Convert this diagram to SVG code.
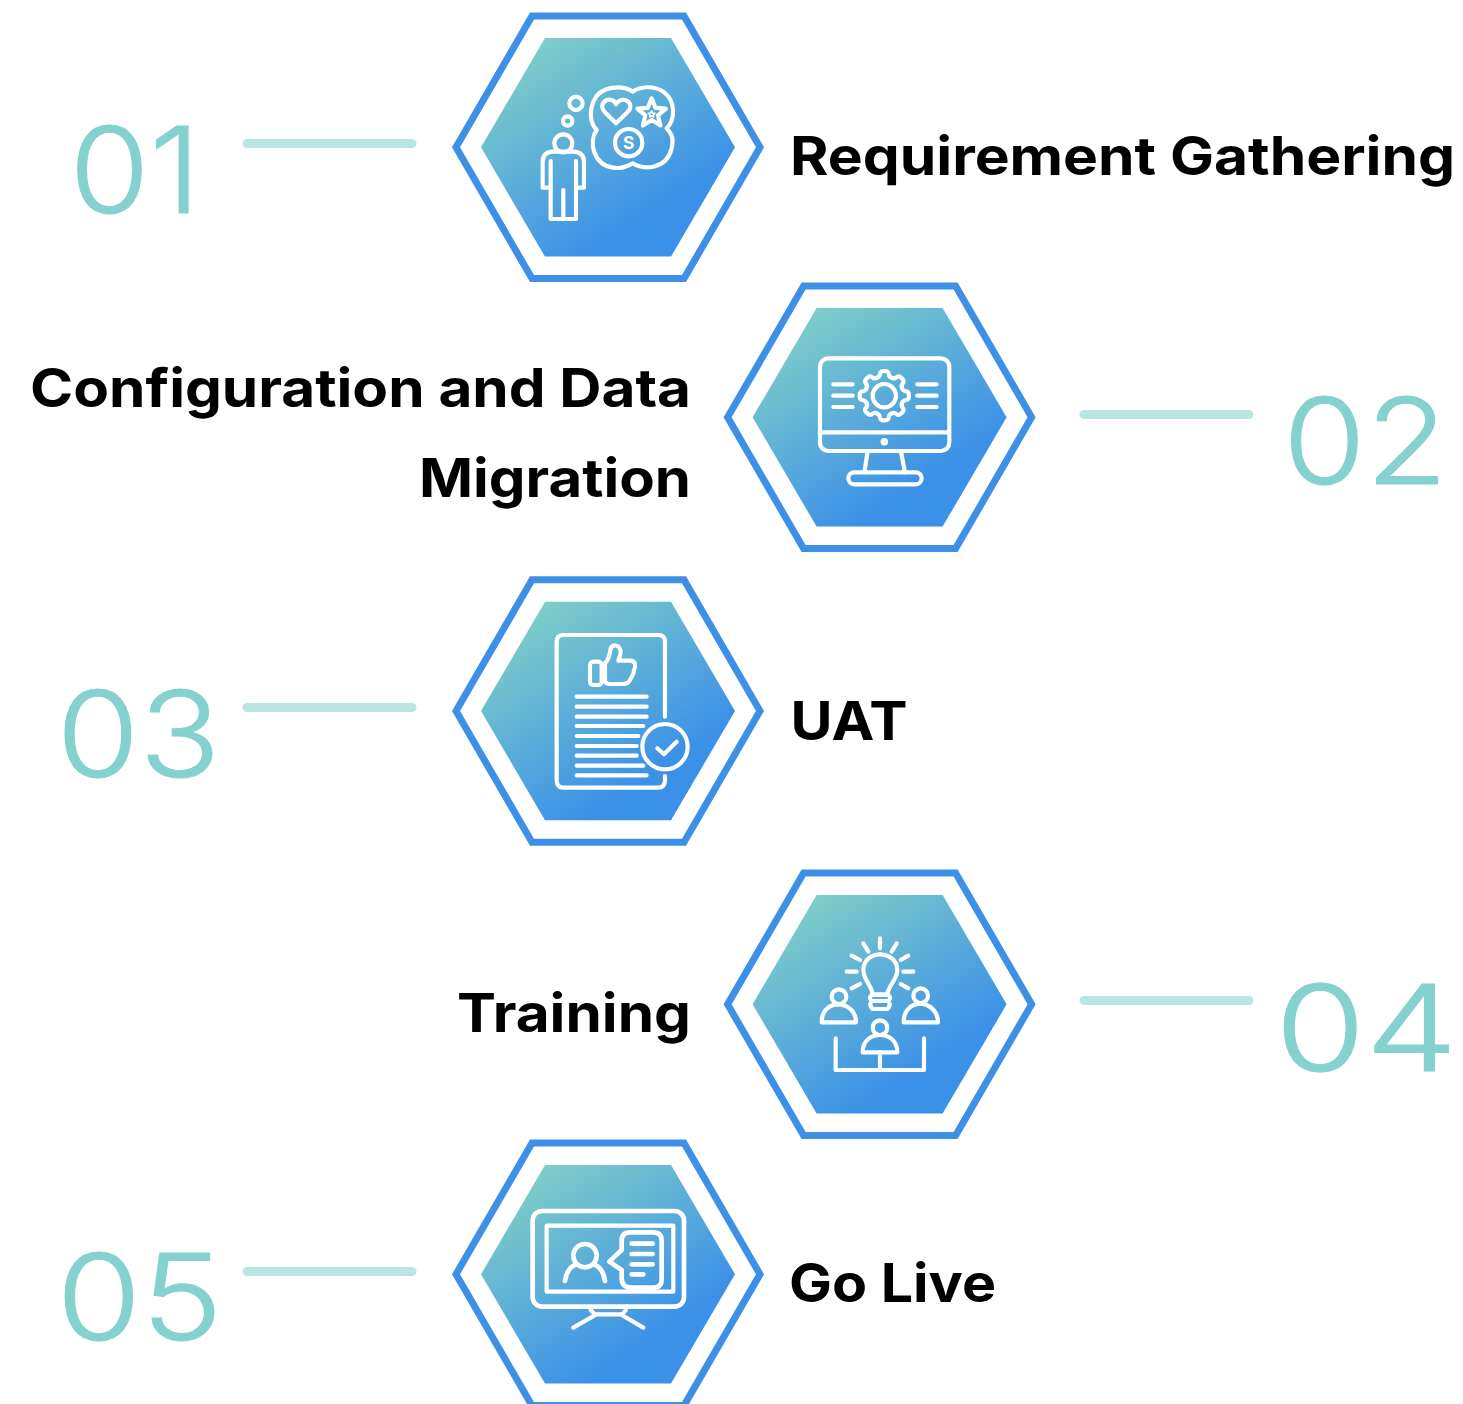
<svg xmlns="http://www.w3.org/2000/svg" xmlns:xlink="http://www.w3.org/1999/xlink" width="1463" height="1404" viewBox="0 0 1463 1404">
<style>
.ring{fill:none;stroke:#3d90e6;stroke-width:7}
.core{fill:url(#g)}
.ic{fill:none;stroke:#fff;stroke-width:12.5;stroke-linecap:round;stroke-linejoin:round}
.lbl{font-family:Inter,"Liberation Sans",sans-serif;font-weight:700;font-size:53px;fill:#000}
.num{font-family:Inter,"Liberation Sans",sans-serif;font-weight:300;font-size:120px;fill:#85d1cd;stroke:#85d1cd;stroke-width:1}
.ln{stroke:#b9e5e3;stroke-width:9;stroke-linecap:round;fill:none}
</style>
<defs>
<linearGradient id="g" x1="0.12" y1="0.02" x2="0.7" y2="0.78">
<stop offset="0" stop-color="#84d2c5"/><stop offset="1" stop-color="#3b90e8"/>
</linearGradient>
<polygon id="hexo" class="ring" points="-152,0 -76,-131.3 76,-131.3 152,0 76,131.3 -76,131.3"/>
<polygon id="hexi" class="core" points="-127,0 -63,-109.3 63,-109.3 127,0 63,109.3 -63,109.3"/>
<path id="tooth" d="M-22.2,-53.6Q-14,-55 -13,-66Q-12,-74 0,-74Q12,-74 13,-66Q14,-55 22.2,-53.6"/>
</defs>
<rect width="1463" height="1404" fill="#fff"/>
<g id="connectors">
<line class="ln" x1="247" y1="143.5" x2="412" y2="143.5"/>
<line class="ln" x1="1084" y1="414.5" x2="1249" y2="414.5"/>
<line class="ln" x1="247" y1="707.5" x2="412" y2="707.5"/>
<line class="ln" x1="1084" y1="1000.5" x2="1249" y2="1000.5"/>
<line class="ln" x1="247" y1="1271.5" x2="412" y2="1271.5"/>
</g>
<g id="node1">
<g transform="translate(608 147.3)"><use href="#hexo" xlink:href="#hexo"/><use href="#hexi" xlink:href="#hexi"/></g>
<g class="ic" transform="translate(530 75) scale(.3333)">
<circle cx="100" cy="205" r="27"/>
<path d="M62,338H38V260Q38,232 68,230H130Q162,232 162,260V338H138M62,258V432H138V258M100,345V432"/>
<circle cx="138" cy="85" r="20"/><circle cx="113" cy="138" r="14"/>
<path d="M308,50C280,30 210,30 190,80C175,120 185,150 200,165C175,200 190,270 250,278C270,282 290,275 308,265C340,285 410,285 425,220C432,190 425,175 410,160C435,135 440,80 400,50C370,30 330,35 308,50Z"/>
<path d="M258,145L225,112C205,90 225,70 245,75C252,77 256,82 258,88C262,78 275,72 285,75C305,82 305,100 292,112Z"/>
<polygon points="365,70 376.8,98.8 407.8,101.1 384,121.2 391.5,151.4 365,135 338.5,151.4 346,121.2 322.2,101.1 353.2,98.8"/>
<polygon points="365,108 368,114 375,115 370,120 371,126 365,123 359,126 360,120 355,115 362,114" stroke-width="5"/>
<circle cx="296" cy="203" r="41"/>
<text x="296" y="222" text-anchor="middle" font-family="Inter,'Liberation Sans',sans-serif" font-weight="700" font-size="52" fill="#fff" stroke="none">S</text>
</g>
<text class="num" x="69.4" y="212.5" textLength="131" lengthAdjust="spacingAndGlyphs">01</text>
<text class="lbl" x="790" y="175" textLength="665" lengthAdjust="spacingAndGlyphs">Requirement Gathering</text>
</g>
<g id="node2">
<g transform="translate(879.6 417.3)"><use href="#hexo" xlink:href="#hexo"/><use href="#hexi" xlink:href="#hexi"/></g>
<g class="ic" transform="translate(720 275) scale(.3333)">
<rect x="300" y="250" width="388" height="278" rx="25"/>
<path d="M300,472H688M443,530L433,592M543,530L555,592"/>
<rect x="385" y="592" width="220" height="36" rx="18"/>
<circle cx="493" cy="500" r="5"/>
<path d="M340,328H398M340,362H398M340,396H398M592,328H650M592,362H650M592,396H650"/>
<circle cx="493" cy="362" r="35"/>
<g transform="translate(493 362)">
<use href="#tooth" xlink:href="#tooth"/>
<use href="#tooth" xlink:href="#tooth" transform="rotate(45)"/>
<use href="#tooth" xlink:href="#tooth" transform="rotate(90)"/>
<use href="#tooth" xlink:href="#tooth" transform="rotate(135)"/>
<use href="#tooth" xlink:href="#tooth" transform="rotate(180)"/>
<use href="#tooth" xlink:href="#tooth" transform="rotate(225)"/>
<use href="#tooth" xlink:href="#tooth" transform="rotate(270)"/>
<use href="#tooth" xlink:href="#tooth" transform="rotate(315)"/>
</g>
</g>
<text class="num" x="1283" y="483.5" textLength="165" lengthAdjust="spacingAndGlyphs">02</text>
<text class="lbl" x="30" y="406.5" textLength="661" lengthAdjust="spacingAndGlyphs">Configuration and Data</text>
<text class="lbl" x="419" y="496.5" textLength="272" lengthAdjust="spacingAndGlyphs">Migration</text>
</g>
<g id="node3">
<g transform="translate(608 711)"><use href="#hexo" xlink:href="#hexo"/><use href="#hexi" xlink:href="#hexi"/></g>
<g class="ic" transform="translate(530 620) scale(.3333)">
<path d="M405,290V65Q405,45 385,45H100Q80,45 80,65V480Q80,503 100,503H385Q405,503 405,480V468"/>
<path d="M140,230H350M140,260H350M140,290H350M140,318H340M140,348H325M140,378H320M140,407H320M140,437H340M140,466H350"/>
<circle cx="405" cy="380" r="68"/>
<path d="M382,385L402,403L440,365"/>
<rect x="180" y="125" width="35" height="70" rx="10"/>
<path d="M225,130C240,115 240,95 242,85C250,70 270,75 272,95C272,105 268,115 265,122H300C318,122 318,140 312,150C312,165 305,170 300,180C295,192 285,192 275,192H240C232,192 228,190 225,185Z"/>
</g>
<text class="num" x="56.5" y="776.5" textLength="164" lengthAdjust="spacingAndGlyphs">03</text>
<text class="lbl" x="790.5" y="739.5" textLength="117" lengthAdjust="spacingAndGlyphs">UAT</text>
</g>
<g id="node4">
<g transform="translate(879.6 1004.3)"><use href="#hexo" xlink:href="#hexo"/><use href="#hexi" xlink:href="#hexi"/></g>
<g class="ic" transform="translate(800 925) scale(.3333)">
<path d="M218,208C215,180 190,165 190,135C190,105 215,88 240,88C265,88 292,105 292,135C292,165 265,180 262,208Z"/>
<path d="M215,210H265Q275,219 265,228Q275,240 262,252H218Q205,240 215,228Q205,219 215,210M215,228H265"/>
<path d="M240,40V70M190,55L205,80M290,55L275,80M155,92L180,105M325,92L302,105M140,140H170M310,140H340M155,190L180,177M325,190L302,177"/>
<circle cx="117" cy="215" r="22"/>
<path d="M65,292C65,250 95,238 117,238C140,240 168,255 168,292Z"/>
<circle cx="362" cy="212" r="22"/>
<path d="M311,292C311,250 340,236 362,236C385,238 414,255 414,292Z"/>
<circle cx="240" cy="308" r="22"/>
<path d="M188,382C188,345 215,330 240,330C265,330 292,345 292,382Z"/>
<path d="M240,382V435M107,340V435H372V340"/>
</g>
<text class="num" x="1275" y="1070.5" textLength="182.5" lengthAdjust="spacingAndGlyphs">04</text>
<text class="lbl" x="457" y="1032" textLength="234" lengthAdjust="spacingAndGlyphs">Training</text>
</g>
<g id="node5">
<g transform="translate(608 1274.3)"><use href="#hexo" xlink:href="#hexo"/><use href="#hexi" xlink:href="#hexi"/></g>
<g class="ic" transform="translate(520 1195) scale(.3333)">
<rect x="38" y="48" width="454" height="287" rx="28" stroke-width="14"/>
<rect x="80" y="92" width="380" height="198"/>
<path d="M212,345L226,360M318,345L305,360M226,358H305M160,398L226,360M370,398L305,360"/>
<circle cx="195" cy="182" r="35" stroke-width="14"/>
<path d="M135,258C138,228 155,212 170,208M255,258C252,228 235,212 220,208" stroke-width="14"/>
<path d="M330,112H400Q425,112 425,137V253Q425,278 400,278H335Q305,278 305,250V225L268,200L305,165V137Q305,112 330,112Z" stroke-width="14"/>
<path d="M335,146H398M335,177H398M335,208H398M335,238H370" stroke-width="14"/>
</g>
<text class="num" x="56.5" y="1339.5" textLength="166" lengthAdjust="spacingAndGlyphs">05</text>
<text class="lbl" x="789" y="1302" textLength="207" lengthAdjust="spacingAndGlyphs">Go Live</text>
</g>
</svg>
